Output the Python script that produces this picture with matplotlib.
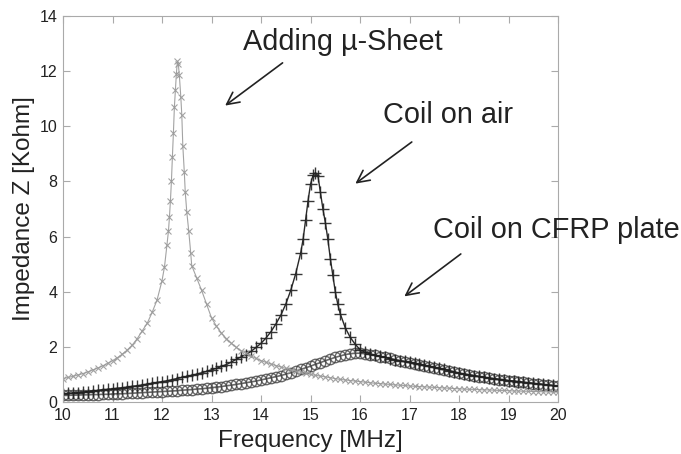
import matplotlib
matplotlib.use("Agg")
import matplotlib.pyplot as plt

plt.rcParams['font.family'] = ['Liberation Sans', 'DejaVu Sans']

# Adding u-Sheet (light gray, x markers)
f_sheet = [10.0, 10.1, 10.2, 10.3, 10.4, 10.5, 10.6, 10.7, 10.8, 10.9,
           11.0, 11.1, 11.2, 11.3, 11.4, 11.5, 11.6, 11.7, 11.8, 11.9,
           12.0, 12.05, 12.1, 12.13, 12.15, 12.17, 12.19, 12.21, 12.23, 12.25,
           12.27, 12.29, 12.31, 12.33, 12.35, 12.38, 12.40, 12.42, 12.45, 12.47,
           12.50, 12.54, 12.58, 12.6, 12.7, 12.8, 12.9, 13.0, 13.1, 13.2,
           13.3, 13.4, 13.5, 13.6, 13.7, 13.8, 13.9, 14.0, 14.1, 14.2,
           14.3, 14.4, 14.5, 14.6, 14.7, 14.8, 14.9, 15.0, 15.1, 15.2,
           15.3, 15.4, 15.5, 15.6, 15.7, 15.8, 15.9, 16.0, 16.1, 16.2,
           16.3, 16.4, 16.5, 16.6, 16.7, 16.8, 16.9, 17.0, 17.1, 17.2,
           17.3, 17.4, 17.5, 17.6, 17.7, 17.8, 17.9, 18.0, 18.1, 18.2,
           18.3, 18.4, 18.5, 18.6, 18.7, 18.8, 18.9, 19.0, 19.1, 19.2,
           19.3, 19.4, 19.5, 19.6, 19.7, 19.8, 19.9, 20.0]
z_sheet = [0.85, 0.89, 0.93, 0.98, 1.03, 1.09, 1.16, 1.23, 1.31, 1.40,
           1.50, 1.61, 1.74, 1.89, 2.07, 2.30, 2.58, 2.85, 3.25, 3.70,
           4.40, 4.90, 5.70, 6.20, 6.70, 7.30, 8.00, 8.90, 9.75, 10.70,
           11.30, 11.90, 12.35, 12.25, 11.85, 11.05, 10.40, 9.30, 8.35, 7.60,
           6.90, 6.20, 5.40, 4.95, 4.50, 4.05, 3.55, 3.05, 2.75, 2.50,
           2.30, 2.13, 1.98, 1.86, 1.76, 1.67, 1.58, 1.50, 1.44, 1.38,
           1.32, 1.27, 1.22, 1.17, 1.12, 1.08, 1.04, 1.00, 0.97, 0.94,
           0.91, 0.88, 0.85, 0.82, 0.80, 0.78, 0.76, 0.74, 0.72, 0.70,
           0.68, 0.67, 0.65, 0.64, 0.62, 0.61, 0.60, 0.58, 0.57, 0.56,
           0.55, 0.54, 0.53, 0.52, 0.51, 0.50, 0.49, 0.48, 0.47, 0.46,
           0.46, 0.45, 0.44, 0.44, 0.43, 0.42, 0.42, 0.41, 0.40, 0.40,
           0.39, 0.39, 0.38, 0.38, 0.37, 0.37, 0.36, 0.36]

# Coil on air (dark, + markers)
f_air = [10.0, 10.1, 10.2, 10.3, 10.4, 10.5, 10.6, 10.7, 10.8, 10.9,
         11.0, 11.1, 11.2, 11.3, 11.4, 11.5, 11.6, 11.7, 11.8, 11.9,
         12.0, 12.1, 12.2, 12.3, 12.4, 12.5, 12.6, 12.7, 12.8, 12.9,
         13.0, 13.1, 13.2, 13.3, 13.4, 13.5, 13.6, 13.7, 13.8, 13.9,
         14.0, 14.1, 14.2, 14.3, 14.4, 14.5, 14.6, 14.7, 14.8, 14.85,
         14.9, 14.95, 15.0, 15.05, 15.1, 15.15, 15.2, 15.25, 15.3, 15.35,
         15.4, 15.45, 15.5, 15.55, 15.6, 15.7, 15.8, 15.9, 16.0, 16.1,
         16.2, 16.3, 16.4, 16.5, 16.6, 16.7, 16.8, 16.9, 17.0, 17.1,
         17.2, 17.3, 17.4, 17.5, 17.6, 17.7, 17.8, 17.9, 18.0, 18.1,
         18.2, 18.3, 18.4, 18.5, 18.6, 18.7, 18.8, 18.9, 19.0, 19.1,
         19.2, 19.3, 19.4, 19.5, 19.6, 19.7, 19.8, 19.9, 20.0]
z_air = [0.30, 0.31, 0.33, 0.34, 0.36, 0.38, 0.40, 0.42, 0.44, 0.46,
         0.48, 0.50, 0.52, 0.54, 0.57, 0.59, 0.62, 0.65, 0.68, 0.71,
         0.74, 0.77, 0.81, 0.85, 0.89, 0.93, 0.97, 1.01, 1.06, 1.11,
         1.17, 1.22, 1.29, 1.36, 1.45, 1.55, 1.64, 1.72, 1.84, 1.98,
         2.13, 2.32, 2.55, 2.83, 3.15, 3.55, 4.05, 4.65, 5.40, 5.90,
         6.60, 7.30, 7.90, 8.22, 8.32, 8.20, 7.60, 7.00, 6.50, 5.90,
         5.20, 4.60, 4.00, 3.55, 3.20, 2.70, 2.35, 2.10, 1.90, 1.80,
         1.75, 1.70, 1.66, 1.62, 1.57, 1.53, 1.50, 1.47, 1.44, 1.40,
         1.37, 1.33, 1.30, 1.26, 1.22, 1.18, 1.14, 1.10, 1.05, 1.02,
         0.99, 0.96, 0.93, 0.90, 0.88, 0.85, 0.83, 0.81, 0.78, 0.76,
         0.74, 0.72, 0.70, 0.68, 0.66, 0.64, 0.62, 0.60, 0.57]

# Coil on CFRP plate (dark gray, o markers)
f_cfrp = [10.0, 10.1, 10.2, 10.3, 10.4, 10.5, 10.6, 10.7, 10.8, 10.9,
          11.0, 11.1, 11.2, 11.3, 11.4, 11.5, 11.6, 11.7, 11.8, 11.9,
          12.0, 12.1, 12.2, 12.3, 12.4, 12.5, 12.6, 12.7, 12.8, 12.9,
          13.0, 13.1, 13.2, 13.3, 13.4, 13.5, 13.6, 13.7, 13.8, 13.9,
          14.0, 14.1, 14.2, 14.3, 14.4, 14.5, 14.6, 14.7, 14.8, 14.9,
          15.0, 15.1, 15.2, 15.3, 15.4, 15.5, 15.6, 15.7, 15.8, 15.9,
          16.0, 16.1, 16.2, 16.3, 16.4, 16.5, 16.6, 16.7, 16.8, 16.9,
          17.0, 17.1, 17.2, 17.3, 17.4, 17.5, 17.6, 17.7, 17.8, 17.9,
          18.0, 18.1, 18.2, 18.3, 18.4, 18.5, 18.6, 18.7, 18.8, 18.9,
          19.0, 19.1, 19.2, 19.3, 19.4, 19.5, 19.6, 19.7, 19.8, 19.9, 20.0]
z_cfrp = [0.24, 0.24, 0.25, 0.25, 0.26, 0.26, 0.27, 0.27, 0.28, 0.28,
          0.29, 0.30, 0.30, 0.31, 0.32, 0.33, 0.34, 0.35, 0.36, 0.37,
          0.38, 0.39, 0.40, 0.41, 0.43, 0.44, 0.45, 0.47, 0.48, 0.50,
          0.52, 0.54, 0.56, 0.59, 0.61, 0.64, 0.67, 0.70, 0.73, 0.76,
          0.80, 0.84, 0.88, 0.92, 0.96, 1.01, 1.06, 1.12, 1.18, 1.24,
          1.30, 1.37, 1.43, 1.50, 1.56, 1.62, 1.67, 1.72, 1.75, 1.77,
          1.77, 1.75, 1.72, 1.69, 1.65, 1.62, 1.58, 1.54, 1.50, 1.46,
          1.42, 1.38, 1.35, 1.31, 1.28, 1.24, 1.20, 1.16, 1.12, 1.08,
          1.04, 1.01, 0.98, 0.95, 0.92, 0.89, 0.86, 0.84, 0.81, 0.79,
          0.77, 0.75, 0.73, 0.71, 0.69, 0.67, 0.65, 0.63, 0.61, 0.59, 0.57]

x_ticks = [10, 11, 12, 13, 14, 15, 16, 17, 18, 19, 20]
y_ticks = [0, 2, 4, 6, 8, 10, 12, 14]

fig = plt.figure(figsize=(6.81, 4.54), dpi=100)
ax = fig.add_axes([0.0925, 0.1145, 0.727, 0.8503])

ax.plot(f_cfrp, z_cfrp, color="#444444", lw=1.2, marker="o", ms=7.5,
        mfc="none", mec="#444444", mew=1.0, alpha=0.8)
ax.plot(f_air, z_air, color="#111111", lw=1.0, marker="+", ms=8,
        mec="#222222", mew=1.0, alpha=0.9)
ax.plot(f_sheet, z_sheet, color="#999999", lw=0.8, marker="x", ms=5,
        mec="#999999", mew=0.8, alpha=0.9)

ax.set_xlim(10, 20)
ax.set_ylim(0, 14)
ax.set_xticks(x_ticks)
ax.set_yticks(y_ticks)
ax.tick_params(direction="in", top=True, right=True, length=5,
               color="#aaaaaa", labelsize=11.5, pad=4, labelcolor="#222222")
for s in ax.spines.values():
    s.set_color("#aaaaaa")
    s.set_linewidth(0.8)

ax.set_xlabel("Frequency [MHz]", fontsize=17.5, labelpad=5, color="#222222")
ax.set_ylabel("Impedance Z [Kohm]", fontsize=17.5, labelpad=3, color="#222222")

arrow = dict(arrowstyle="->", color="#222222", lw=1.2, mutation_scale=22)
ax.annotate("", xy=(13.23, 10.69), xytext=(14.48, 12.36), arrowprops=arrow)
ax.annotate("", xy=(15.86, 7.86), xytext=(17.09, 9.49), arrowprops=arrow)
ax.annotate("", xy=(16.85, 3.77), xytext=(18.08, 5.43), arrowprops=arrow)

ax.text(13.64, 13.04, "Adding µ-Sheet", fontsize=20.8, va="center", ha="left", color="#222222")
ax.text(16.46, 10.4, "Coil on air", fontsize=20.8, va="center", ha="left", color="#222222")
ax.text(17.47, 6.23, "Coil on CFRP plate", fontsize=20.8, va="center", ha="left",
        color="#222222", clip_on=False)

fig.savefig("out.png", dpi=100)
